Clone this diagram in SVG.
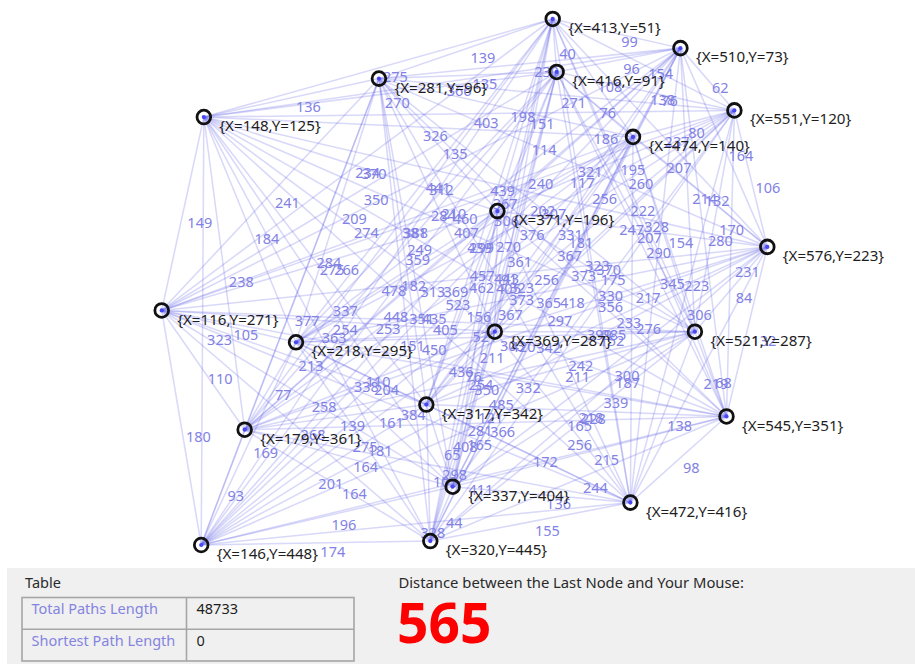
<svg xmlns="http://www.w3.org/2000/svg" width="915" height="664" viewBox="0 0 915 664">
<style>
#connectors line{stroke:#5a5ae6;stroke-opacity:0.24;stroke-width:1.15}
.el{font-family:"Noto Sans","Open Sans","DejaVu Sans",sans-serif;font-size:11px;fill:#8282e4}
.ring{fill:none;stroke:#111;stroke-width:2.1}
.dot{fill:#4848f0}
.nl{font-family:"Noto Sans","Open Sans","DejaVu Sans",sans-serif;font-size:11.5px;fill:#1e1e1e}
.pt{font-family:"Noto Sans","Open Sans","DejaVu Sans",sans-serif;font-size:14.5px}
</style>
<rect width="915" height="664" fill="#ffffff"/>
<g transform="matrix(1.3165 0 0 1.325 9 -48.6)">
<g id="connectors">
<line x1="413" y1="51" x2="510" y2="73"/><line x1="413" y1="51" x2="416" y2="91"/><line x1="413" y1="51" x2="281" y2="96"/><line x1="413" y1="51" x2="551" y2="120"/><line x1="413" y1="51" x2="148" y2="125"/><line x1="413" y1="51" x2="474" y2="140"/><line x1="413" y1="51" x2="371" y2="196"/><line x1="413" y1="51" x2="576" y2="223"/><line x1="413" y1="51" x2="116" y2="271"/><line x1="413" y1="51" x2="218" y2="295"/><line x1="413" y1="51" x2="369" y2="287"/><line x1="413" y1="51" x2="521" y2="287"/><line x1="413" y1="51" x2="317" y2="342"/><line x1="413" y1="51" x2="545" y2="351"/><line x1="413" y1="51" x2="179" y2="361"/><line x1="413" y1="51" x2="337" y2="404"/><line x1="413" y1="51" x2="472" y2="416"/><line x1="413" y1="51" x2="146" y2="448"/><line x1="413" y1="51" x2="320" y2="445"/>
<line x1="510" y1="73" x2="416" y2="91"/><line x1="510" y1="73" x2="281" y2="96"/><line x1="510" y1="73" x2="551" y2="120"/><line x1="510" y1="73" x2="148" y2="125"/><line x1="510" y1="73" x2="474" y2="140"/><line x1="510" y1="73" x2="371" y2="196"/><line x1="510" y1="73" x2="576" y2="223"/><line x1="510" y1="73" x2="116" y2="271"/><line x1="510" y1="73" x2="218" y2="295"/><line x1="510" y1="73" x2="369" y2="287"/><line x1="510" y1="73" x2="521" y2="287"/><line x1="510" y1="73" x2="317" y2="342"/><line x1="510" y1="73" x2="545" y2="351"/><line x1="510" y1="73" x2="179" y2="361"/><line x1="510" y1="73" x2="337" y2="404"/><line x1="510" y1="73" x2="472" y2="416"/><line x1="510" y1="73" x2="146" y2="448"/><line x1="510" y1="73" x2="320" y2="445"/>
<line x1="416" y1="91" x2="281" y2="96"/><line x1="416" y1="91" x2="551" y2="120"/><line x1="416" y1="91" x2="148" y2="125"/><line x1="416" y1="91" x2="474" y2="140"/><line x1="416" y1="91" x2="371" y2="196"/><line x1="416" y1="91" x2="576" y2="223"/><line x1="416" y1="91" x2="116" y2="271"/><line x1="416" y1="91" x2="218" y2="295"/><line x1="416" y1="91" x2="369" y2="287"/><line x1="416" y1="91" x2="521" y2="287"/><line x1="416" y1="91" x2="317" y2="342"/><line x1="416" y1="91" x2="545" y2="351"/><line x1="416" y1="91" x2="179" y2="361"/><line x1="416" y1="91" x2="337" y2="404"/><line x1="416" y1="91" x2="472" y2="416"/><line x1="416" y1="91" x2="146" y2="448"/><line x1="416" y1="91" x2="320" y2="445"/>
<line x1="281" y1="96" x2="551" y2="120"/><line x1="281" y1="96" x2="148" y2="125"/><line x1="281" y1="96" x2="474" y2="140"/><line x1="281" y1="96" x2="371" y2="196"/><line x1="281" y1="96" x2="576" y2="223"/><line x1="281" y1="96" x2="116" y2="271"/><line x1="281" y1="96" x2="218" y2="295"/><line x1="281" y1="96" x2="369" y2="287"/><line x1="281" y1="96" x2="521" y2="287"/><line x1="281" y1="96" x2="317" y2="342"/><line x1="281" y1="96" x2="545" y2="351"/><line x1="281" y1="96" x2="179" y2="361"/><line x1="281" y1="96" x2="337" y2="404"/><line x1="281" y1="96" x2="472" y2="416"/><line x1="281" y1="96" x2="146" y2="448"/><line x1="281" y1="96" x2="320" y2="445"/>
<line x1="551" y1="120" x2="148" y2="125"/><line x1="551" y1="120" x2="474" y2="140"/><line x1="551" y1="120" x2="371" y2="196"/><line x1="551" y1="120" x2="576" y2="223"/><line x1="551" y1="120" x2="116" y2="271"/><line x1="551" y1="120" x2="218" y2="295"/><line x1="551" y1="120" x2="369" y2="287"/><line x1="551" y1="120" x2="521" y2="287"/><line x1="551" y1="120" x2="317" y2="342"/><line x1="551" y1="120" x2="545" y2="351"/><line x1="551" y1="120" x2="179" y2="361"/><line x1="551" y1="120" x2="337" y2="404"/><line x1="551" y1="120" x2="472" y2="416"/><line x1="551" y1="120" x2="146" y2="448"/><line x1="551" y1="120" x2="320" y2="445"/>
<line x1="148" y1="125" x2="474" y2="140"/><line x1="148" y1="125" x2="371" y2="196"/><line x1="148" y1="125" x2="576" y2="223"/><line x1="148" y1="125" x2="116" y2="271"/><line x1="148" y1="125" x2="218" y2="295"/><line x1="148" y1="125" x2="369" y2="287"/><line x1="148" y1="125" x2="521" y2="287"/><line x1="148" y1="125" x2="317" y2="342"/><line x1="148" y1="125" x2="545" y2="351"/><line x1="148" y1="125" x2="179" y2="361"/><line x1="148" y1="125" x2="337" y2="404"/><line x1="148" y1="125" x2="472" y2="416"/><line x1="148" y1="125" x2="146" y2="448"/><line x1="148" y1="125" x2="320" y2="445"/>
<line x1="474" y1="140" x2="371" y2="196"/><line x1="474" y1="140" x2="576" y2="223"/><line x1="474" y1="140" x2="116" y2="271"/><line x1="474" y1="140" x2="218" y2="295"/><line x1="474" y1="140" x2="369" y2="287"/><line x1="474" y1="140" x2="521" y2="287"/><line x1="474" y1="140" x2="317" y2="342"/><line x1="474" y1="140" x2="545" y2="351"/><line x1="474" y1="140" x2="179" y2="361"/><line x1="474" y1="140" x2="337" y2="404"/><line x1="474" y1="140" x2="472" y2="416"/><line x1="474" y1="140" x2="146" y2="448"/><line x1="474" y1="140" x2="320" y2="445"/>
<line x1="371" y1="196" x2="576" y2="223"/><line x1="371" y1="196" x2="116" y2="271"/><line x1="371" y1="196" x2="218" y2="295"/><line x1="371" y1="196" x2="369" y2="287"/><line x1="371" y1="196" x2="521" y2="287"/><line x1="371" y1="196" x2="317" y2="342"/><line x1="371" y1="196" x2="545" y2="351"/><line x1="371" y1="196" x2="179" y2="361"/><line x1="371" y1="196" x2="337" y2="404"/><line x1="371" y1="196" x2="472" y2="416"/><line x1="371" y1="196" x2="146" y2="448"/><line x1="371" y1="196" x2="320" y2="445"/>
<line x1="576" y1="223" x2="116" y2="271"/><line x1="576" y1="223" x2="218" y2="295"/><line x1="576" y1="223" x2="369" y2="287"/><line x1="576" y1="223" x2="521" y2="287"/><line x1="576" y1="223" x2="317" y2="342"/><line x1="576" y1="223" x2="545" y2="351"/><line x1="576" y1="223" x2="179" y2="361"/><line x1="576" y1="223" x2="337" y2="404"/><line x1="576" y1="223" x2="472" y2="416"/><line x1="576" y1="223" x2="146" y2="448"/><line x1="576" y1="223" x2="320" y2="445"/>
<line x1="116" y1="271" x2="218" y2="295"/><line x1="116" y1="271" x2="369" y2="287"/><line x1="116" y1="271" x2="521" y2="287"/><line x1="116" y1="271" x2="317" y2="342"/><line x1="116" y1="271" x2="545" y2="351"/><line x1="116" y1="271" x2="179" y2="361"/><line x1="116" y1="271" x2="337" y2="404"/><line x1="116" y1="271" x2="472" y2="416"/><line x1="116" y1="271" x2="146" y2="448"/><line x1="116" y1="271" x2="320" y2="445"/>
<line x1="218" y1="295" x2="369" y2="287"/><line x1="218" y1="295" x2="521" y2="287"/><line x1="218" y1="295" x2="317" y2="342"/><line x1="218" y1="295" x2="545" y2="351"/><line x1="218" y1="295" x2="179" y2="361"/><line x1="218" y1="295" x2="337" y2="404"/><line x1="218" y1="295" x2="472" y2="416"/><line x1="218" y1="295" x2="146" y2="448"/><line x1="218" y1="295" x2="320" y2="445"/>
<line x1="369" y1="287" x2="521" y2="287"/><line x1="369" y1="287" x2="317" y2="342"/><line x1="369" y1="287" x2="545" y2="351"/><line x1="369" y1="287" x2="179" y2="361"/><line x1="369" y1="287" x2="337" y2="404"/><line x1="369" y1="287" x2="472" y2="416"/><line x1="369" y1="287" x2="146" y2="448"/><line x1="369" y1="287" x2="320" y2="445"/>
<line x1="521" y1="287" x2="317" y2="342"/><line x1="521" y1="287" x2="545" y2="351"/><line x1="521" y1="287" x2="179" y2="361"/><line x1="521" y1="287" x2="337" y2="404"/><line x1="521" y1="287" x2="472" y2="416"/><line x1="521" y1="287" x2="146" y2="448"/><line x1="521" y1="287" x2="320" y2="445"/>
<line x1="317" y1="342" x2="545" y2="351"/><line x1="317" y1="342" x2="179" y2="361"/><line x1="317" y1="342" x2="337" y2="404"/><line x1="317" y1="342" x2="472" y2="416"/><line x1="317" y1="342" x2="146" y2="448"/><line x1="317" y1="342" x2="320" y2="445"/>
<line x1="545" y1="351" x2="179" y2="361"/><line x1="545" y1="351" x2="337" y2="404"/><line x1="545" y1="351" x2="472" y2="416"/><line x1="545" y1="351" x2="146" y2="448"/><line x1="545" y1="351" x2="320" y2="445"/>
<line x1="179" y1="361" x2="337" y2="404"/><line x1="179" y1="361" x2="472" y2="416"/><line x1="179" y1="361" x2="146" y2="448"/><line x1="179" y1="361" x2="320" y2="445"/>
<line x1="337" y1="404" x2="472" y2="416"/><line x1="337" y1="404" x2="146" y2="448"/><line x1="337" y1="404" x2="320" y2="445"/>
<line x1="472" y1="416" x2="146" y2="448"/><line x1="472" y1="416" x2="320" y2="445"/>
<line x1="146" y1="448" x2="320" y2="445"/>
</g>
<g id="edge-labels" class="el" transform="translate(3.5 10.5)">
<text x="461.5" y="62">99</text><text x="414.5" y="71">40</text><text x="347" y="73.5">139</text><text x="482" y="85.5">154</text><text x="280.5" y="88">275</text><text x="443.5" y="95.5">108</text><text x="392" y="123.5">151</text><text x="494.5" y="137">237</text><text x="264.5" y="161">370</text><text x="315.5" y="173">312</text><text x="391" y="169">240</text><text x="467" y="169">260</text><text x="365" y="196.5">306</text><text x="479" y="201">328</text><text x="296" y="206">388</text><text x="375" y="227.5">361</text><text x="442.5" y="233.5">370</text><text x="279.5" y="249.5">478</text><text x="366.5" y="248">405</text>
<text x="463" y="82">96</text><text x="395.5" y="84.5">230</text><text x="530.5" y="96.5">62</text><text x="329" y="99">366</text><text x="492" y="106.5">76</text><text x="440.5" y="134.5">186</text><text x="543" y="148">164</text><text x="313" y="172">441</text><text x="364" y="184">367</text><text x="439.5" y="180">256</text><text x="515.5" y="180">214</text><text x="413.5" y="207.5">331</text><text x="527.5" y="212">280</text><text x="344.5" y="217">439</text><text x="423.5" y="238.5">373</text><text x="491" y="244.5">345</text><text x="328" y="260.5">523</text><text x="415" y="259">418</text>
<text x="348.5" y="93.5">135</text><text x="483.5" y="105.5">138</text><text x="282" y="108">270</text><text x="445" y="115.5">76</text><text x="393.5" y="143.5">114</text><text x="496" y="157">207</text><text x="266" y="181">350</text><text x="317" y="193">284</text><text x="392.5" y="189">202</text><text x="468.5" y="189">222</text><text x="366.5" y="216.5">270</text><text x="480.5" y="221">290</text><text x="297.5" y="226">359</text><text x="376.5" y="247.5">323</text><text x="444" y="253.5">330</text><text x="281" y="269.5">448</text><text x="368" y="268">367</text>
<text x="416" y="108">271</text><text x="214.5" y="110.5">136</text><text x="377.5" y="118">198</text><text x="326" y="146">135</text><text x="428.5" y="159.5">321</text><text x="198.5" y="183.5">241</text><text x="249.5" y="195.5">209</text><text x="325" y="191.5">210</text><text x="401" y="191.5">307</text><text x="299" y="219">249</text><text x="413" y="223.5">367</text><text x="230" y="228.5">284</text><text x="309" y="250">313</text><text x="376.5" y="256">373</text><text x="213.5" y="272">377</text><text x="300.5" y="270.5">351</text>
<text x="349.5" y="122.5">403</text><text x="512.5" y="130">80</text><text x="461" y="158">195</text><text x="563.5" y="171.5">106</text><text x="333.5" y="195.5">460</text><text x="384.5" y="207.5">376</text><text x="460" y="203.5">247</text><text x="536" y="203.5">170</text><text x="434" y="231">323</text><text x="548" y="235.5">231</text><text x="365" y="240.5">443</text><text x="444" y="262">356</text><text x="511.5" y="268">306</text><text x="348.5" y="284">521</text><text x="435.5" y="282.5">399</text>
<text x="311" y="132.5">326</text><text x="259.5" y="160.5">234</text><text x="362" y="174">439</text><text x="132" y="198">149</text><text x="183" y="210">184</text><text x="258.5" y="206">274</text><text x="334.5" y="206">407</text><text x="232.5" y="233.5">275</text><text x="346.5" y="238">457</text><text x="163.5" y="243">238</text><text x="242.5" y="264.5">337</text><text x="310" y="270.5">435</text><text x="147" y="286.5">323</text><text x="234" y="285">363</text>
<text x="422.5" y="168">117</text><text x="525" y="181.5">132</text><text x="295" y="205.5">381</text><text x="346" y="217.5">299</text><text x="421.5" y="213.5">181</text><text x="497.5" y="213.5">154</text><text x="395.5" y="241">256</text><text x="509.5" y="245.5">223</text><text x="326.5" y="250.5">369</text><text x="405.5" y="272">297</text><text x="473" y="278">276</text><text x="310" y="294">450</text><text x="397" y="292.5">342</text>
<text x="473.5" y="209.5">207</text><text x="243.5" y="233.5">266</text><text x="294.5" y="245.5">182</text><text x="370" y="241.5">91</text><text x="446" y="241.5">175</text><text x="344" y="269">156</text><text x="458" y="273.5">233</text><text x="275" y="278.5">253</text><text x="354" y="300">211</text><text x="421.5" y="306">242</text><text x="258.5" y="322">338</text><text x="345.5" y="320.5">254</text>
<text x="346" y="247">462</text><text x="397" y="259">365</text><text x="472.5" y="255">217</text><text x="548.5" y="255">84</text><text x="446.5" y="282.5">285</text><text x="560.5" y="287">132</text><text x="377.5" y="292">420</text><text x="456.5" y="313.5">300</text><text x="524" y="319.5">219</text><text x="361" y="335.5">485</text><text x="448" y="334">339</text>
<text x="167" y="283">105</text><text x="242.5" y="279">254</text><text x="318.5" y="279">405</text><text x="216.5" y="306.5">213</text><text x="330.5" y="311">436</text><text x="147.5" y="316">110</text><text x="226.5" y="337.5">258</text><text x="294" y="343.5">384</text><text x="131" y="359.5">180</text><text x="218" y="358">268</text>
<text x="293.5" y="291">151</text><text x="369.5" y="291">303</text><text x="267.5" y="318.5">110</text><text x="381.5" y="323">332</text><text x="198.5" y="328">77</text><text x="277.5" y="349.5">161</text><text x="345" y="355.5">281</text><text x="182" y="371.5">169</text><text x="269" y="370">181</text>
<text x="445" y="287">152</text><text x="343" y="314.5">76</text><text x="457" y="319">187</text><text x="274" y="324">204</text><text x="353" y="345.5">121</text><text x="420.5" y="351.5">165</text><text x="257.5" y="367.5">275</text><text x="344.5" y="366">165</text>
<text x="419" y="314.5">211</text><text x="533" y="319">68</text><text x="350" y="324">350</text><text x="429" y="345.5">218</text><text x="496.5" y="351.5">138</text><text x="333.5" y="367.5">408</text><text x="420.5" y="366">256</text>
<text x="431" y="346.5">228</text><text x="248" y="351.5">139</text><text x="327" y="373">65</text><text x="394.5" y="379">172</text><text x="231.5" y="395">201</text><text x="318.5" y="393.5">103</text>
<text x="362" y="356">366</text><text x="441" y="377.5">215</text><text x="508.5" y="383.5">98</text><text x="345.5" y="399.5">411</text><text x="432.5" y="398">244</text>
<text x="258" y="382.5">164</text><text x="325.5" y="388.5">298</text><text x="162.5" y="404.5">93</text><text x="249.5" y="403">164</text>
<text x="404.5" y="410">136</text><text x="241.5" y="426">196</text><text x="328.5" y="424.5">44</text>
<text x="309" y="432">328</text><text x="396" y="430.5">155</text>
<text x="233" y="446.5">174</text>
</g>
<g id="node-413-51"><circle class="ring" cx="413" cy="51" r="5.2"/><circle class="dot" cx="413" cy="51" r="1.6"/><text class="nl" x="424.8" y="61.6">{X=413,Y=51}</text></g>
<g id="node-510-73"><circle class="ring" cx="510" cy="73" r="5.2"/><circle class="dot" cx="510" cy="73" r="1.6"/><text class="nl" x="521.8" y="83.6">{X=510,Y=73}</text></g>
<g id="node-416-91"><circle class="ring" cx="416" cy="91" r="5.2"/><circle class="dot" cx="416" cy="91" r="1.6"/><text class="nl" x="427.8" y="101.6">{X=416,Y=91}</text></g>
<g id="node-281-96"><circle class="ring" cx="281" cy="96" r="5.2"/><circle class="dot" cx="281" cy="96" r="1.6"/><text class="nl" x="292.8" y="106.6">{X=281,Y=96}</text></g>
<g id="node-551-120"><circle class="ring" cx="551" cy="120" r="5.2"/><circle class="dot" cx="551" cy="120" r="1.6"/><text class="nl" x="562.8" y="130.6">{X=551,Y=120}</text></g>
<g id="node-148-125"><circle class="ring" cx="148" cy="125" r="5.2"/><circle class="dot" cx="148" cy="125" r="1.6"/><text class="nl" x="159.8" y="135.6">{X=148,Y=125}</text></g>
<g id="node-474-140"><circle class="ring" cx="474" cy="140" r="5.2"/><circle class="dot" cx="474" cy="140" r="1.6"/><text class="nl" x="485.8" y="150.6">{X=474,Y=140}</text></g>
<g id="node-371-196"><circle class="ring" cx="371" cy="196" r="5.2"/><circle class="dot" cx="371" cy="196" r="1.6"/><text class="nl" x="382.8" y="206.6">{X=371,Y=196}</text></g>
<g id="node-576-223"><circle class="ring" cx="576" cy="223" r="5.2"/><circle class="dot" cx="576" cy="223" r="1.6"/><text class="nl" x="587.8" y="233.6">{X=576,Y=223}</text></g>
<g id="node-116-271"><circle class="ring" cx="116" cy="271" r="5.2"/><circle class="dot" cx="116" cy="271" r="1.6"/><text class="nl" x="127.8" y="281.6">{X=116,Y=271}</text></g>
<g id="node-218-295"><circle class="ring" cx="218" cy="295" r="5.2"/><circle class="dot" cx="218" cy="295" r="1.6"/><text class="nl" x="229.8" y="305.6">{X=218,Y=295}</text></g>
<g id="node-369-287"><circle class="ring" cx="369" cy="287" r="5.2"/><circle class="dot" cx="369" cy="287" r="1.6"/><text class="nl" x="380.8" y="297.6">{X=369,Y=287}</text></g>
<g id="node-521-287"><circle class="ring" cx="521" cy="287" r="5.2"/><circle class="dot" cx="521" cy="287" r="1.6"/><text class="nl" x="532.8" y="297.6">{X=521,Y=287}</text></g>
<g id="node-317-342"><circle class="ring" cx="317" cy="342" r="5.2"/><circle class="dot" cx="317" cy="342" r="1.6"/><text class="nl" x="328.8" y="352.6">{X=317,Y=342}</text></g>
<g id="node-545-351"><circle class="ring" cx="545" cy="351" r="5.2"/><circle class="dot" cx="545" cy="351" r="1.6"/><text class="nl" x="556.8" y="361.6">{X=545,Y=351}</text></g>
<g id="node-179-361"><circle class="ring" cx="179" cy="361" r="5.2"/><circle class="dot" cx="179" cy="361" r="1.6"/><text class="nl" x="190.8" y="371.6">{X=179,Y=361}</text></g>
<g id="node-337-404"><circle class="ring" cx="337" cy="404" r="5.2"/><circle class="dot" cx="337" cy="404" r="1.6"/><text class="nl" x="348.8" y="414.6">{X=337,Y=404}</text></g>
<g id="node-472-416"><circle class="ring" cx="472" cy="416" r="5.2"/><circle class="dot" cx="472" cy="416" r="1.6"/><text class="nl" x="483.8" y="426.6">{X=472,Y=416}</text></g>
<g id="node-146-448"><circle class="ring" cx="146" cy="448" r="5.2"/><circle class="dot" cx="146" cy="448" r="1.6"/><text class="nl" x="157.8" y="458.6">{X=146,Y=448}</text></g>
<g id="node-320-445"><circle class="ring" cx="320" cy="445" r="5.2"/><circle class="dot" cx="320" cy="445" r="1.6"/><text class="nl" x="331.8" y="455.6">{X=320,Y=445}</text></g>
</g>
<g id="panel">
<rect x="7" y="568" width="908" height="96" fill="#f0f0f0"/>
<text class="pt" x="25" y="588" fill="#2a2a2a">Table</text>
<g id="table" fill="none" stroke="#a6a6a6" stroke-width="1.6">
<rect x="22" y="597.5" width="332" height="63.5"/>
<line x1="22" y1="629.3" x2="354" y2="629.3"/>
<line x1="186.5" y1="597.5" x2="186.5" y2="661"/>
</g>
<text class="pt" x="31.5" y="613.5" fill="#8484e0">Total Paths Length</text>
<text class="pt" x="31.5" y="645.5" fill="#8484e0">Shortest Path Length</text>
<text class="pt" x="196.5" y="614" fill="#1e1e1e">48733</text>
<text class="pt" x="196.5" y="645.5" fill="#1e1e1e">0</text>
<text class="pt" x="398.5" y="588" fill="#2a2a2a" style="font-size:14.8px">Distance between the Last Node and Your Mouse:</text>
<text x="397" y="643" font-family="'Noto Sans','Open Sans','DejaVu Sans',sans-serif" font-size="55" font-weight="bold" fill="#ff0000">565</text>
</g>
</svg>
